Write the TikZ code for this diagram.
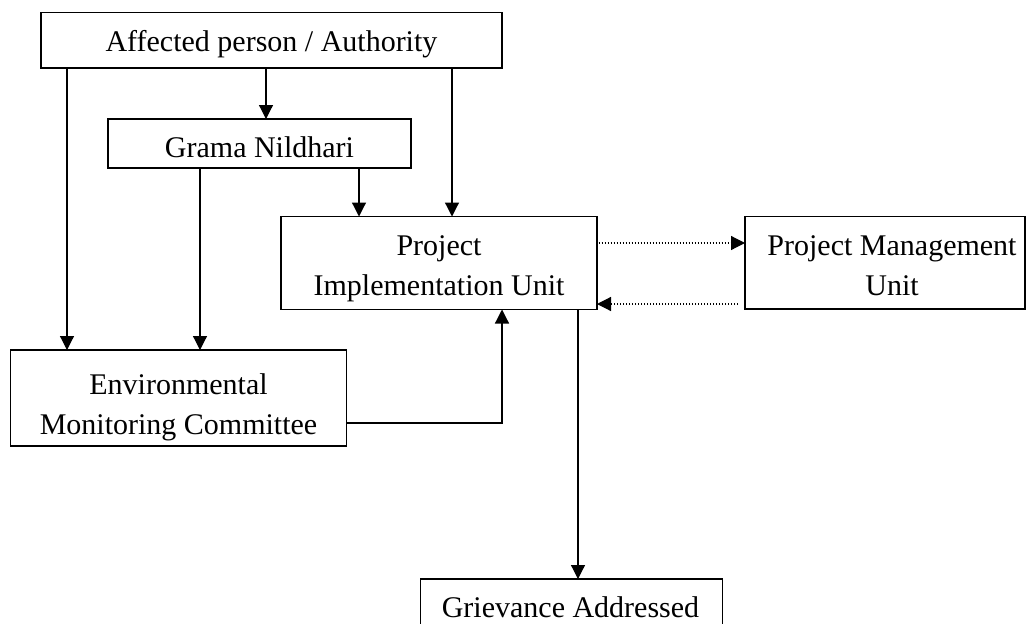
\documentclass[tikz,border=0pt]{standalone}
\usepackage{fontspec}
\setmainfont{Liberation Serif}
\usetikzlibrary{arrows.meta}
\begin{document}
\begin{tikzpicture}[x=1pt,y=-1pt,line width=1.2pt,
  box/.style={draw,rectangle,inner sep=0pt,outer sep=0pt},
  lbl/.style={inner sep=0pt,outer sep=0pt,align=center,anchor=base,font=\fontsize{30}{39.5}\selectfont},
  arr/.style={-{Triangle[length=14pt,width=14pt]}},
  dotarr/.style={arr,dash pattern=on 1.2pt off 1.8pt}]
\useasboundingbox (0,0) rectangle (1026,624);
\clip (0,0) rectangle (1026,624);
% boxes
\node[box,minimum width=461pt,minimum height=55.5pt] (aff) at (271.5,40.25) {};
\node[box,minimum width=303pt,minimum height=49pt] (gn) at (259.5,143.5) {};
\node[box,minimum width=316pt,minimum height=93pt] (piu) at (439,263) {};
\node[box,minimum width=280pt,minimum height=92.5pt] (pmu) at (885,262.75) {};
\node[box,minimum width=336pt,minimum height=96pt] (emc) at (178.7,398) {};
\node[box,minimum width=302pt,minimum height=61pt] (gr) at (571.7,609.5) {};
% texts (base anchor = baseline of the last line)
\node[lbl] (afft) at (271.5,51) {Affected person / Authority};
\node[lbl] (gnt) at (259.5,157) {Grama Nildhari};
\node[lbl] (piut) at (439,295) {Project\\Implementation Unit};
\node[lbl] (pmut) at (892,295) {Project Management\\Unit};
\node[lbl] (emct) at (178.5,434) {Environmental\\Monitoring Committee};
\node[lbl] (grt) at (570.5,617) {Grievance Addressed};
% helper coordinates
\coordinate (xa) at (67,0);
\coordinate (xb) at (266,0);
\coordinate (xc) at (452,0);
\coordinate (xd) at (200,0);
\coordinate (xe) at (359,0);
\coordinate (xf) at (502,0);
\coordinate (xg) at (578,0);
\coordinate (ya) at (0,243);
\coordinate (yb) at (0,304);
\coordinate (yc) at (0,423);
% connectors
\draw[arr] (aff.south -| xa) -- (emc.north -| xa);
\draw[arr] (aff.south -| xb) -- (gn.north -| xb);
\draw[arr] (aff.south -| xc) -- (piu.north -| xc);
\draw[arr] (gn.south -| xd) -- (emc.north -| xd);
\draw[arr] (gn.south -| xe) -- (piu.north -| xe);
\draw[dotarr,shorten <=1.5pt] (piu.east |- ya) -- (pmu.west |- ya);
\draw[dotarr,shorten <=7pt] (pmu.west |- yb) -- (piu.east |- yb);
\draw[arr] (emc.east |- yc) -| (piu.south -| xf);
\draw[arr] (piu.south -| xg) -- (gr.north -| xg);
\end{tikzpicture}
\end{document}
